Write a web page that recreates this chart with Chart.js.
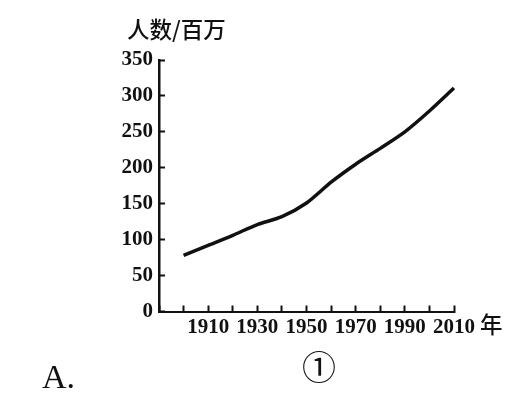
<!DOCTYPE html>
<html>
<head>
<meta charset="utf-8">
<script src="https://cdn.jsdelivr.net/npm/chart.js@4"></script>
<style>
  html, body { margin: 0; padding: 0; background: #fff; }
  #wrap { position: relative; width: 512px; height: 419px; overflow: hidden; }
  #wrap span { position: absolute; color: #111; white-space: nowrap; line-height: 1; }
  .cn { font-family: "Noto Sans CJK SC", sans-serif; font-size: 22.5px; font-weight: 500; }
</style>
</head>
<body>
<div id="wrap">
  <canvas id="chart" width="512" height="419"></canvas>
  <span class="cn" style="left:127px; top:17px;">人数/百万</span>
  <span class="cn" style="left:480px; top:312px;">年</span>
  <span style="left:302px; top:341px; font:34px 'Noto Sans CJK SC', sans-serif;">①</span>
  <span style="left:42px; top:358px; font:34px 'Liberation Serif', serif;">A.</span>
</div>
<script>
var years = [1900, 1910, 1920, 1930, 1940, 1950, 1960, 1970, 1980, 1990, 2000, 2010];
var population = [78, 92, 106, 121, 132, 151, 180, 205, 227, 250, 279, 311];
var yearLabels = [1910, 1930, 1950, 1970, 1990, 2010];

var tickFont = { family: "Liberation Serif", size: 21, weight: "bold" };

new Chart(document.getElementById("chart").getContext("2d"), {
  type: "line",
  data: {
    labels: years,
    datasets: [
      {
        data: years.map((y, i) => ({ x: y, y: population[i] })),
        borderColor: "#111",
        borderWidth: 3.5,
        pointRadius: 0,
        tension: 0.25,
        fill: false,
        clip: false,
      },
    ],
  },
  options: {
    responsive: false,
    animation: false,
    layout: { padding: { top: 60, right: 58, left: 0, bottom: 0 } },
    plugins: { legend: { display: false }, tooltip: { enabled: false } },
    scales: {
      x: {
        type: "linear",
        position: "bottom",
        min: 1890,
        max: 2010,
        afterFit: function (scale) {
          scale.height = 107.5;
        },
        border: { color: "#111", width: 2 },
        grid: { drawOnChartArea: false, drawTicks: true, tickLength: -6, tickWidth: 2, tickColor: "#111" },
        ticks: {
          stepSize: 10,
          autoSkip: false,
          maxRotation: 0,
          padding: 9,
          color: "#111",
          font: tickFont,
          callback: function (value) {
            return yearLabels.includes(value) ? String(value) : "";
          },
        },
      },
      y: {
        min: 0,
        max: 350,
        afterFit: function (scale) {
          scale.width = 159;
        },
        border: { color: "#111", width: 2.5 },
        grid: { drawOnChartArea: false, drawTicks: true, tickLength: -6, tickWidth: 2, tickColor: "#111" },
        ticks: { stepSize: 50, padding: 12, color: "#111", font: tickFont },
      },
    },
  },
});
</script>
</body>
</html>
